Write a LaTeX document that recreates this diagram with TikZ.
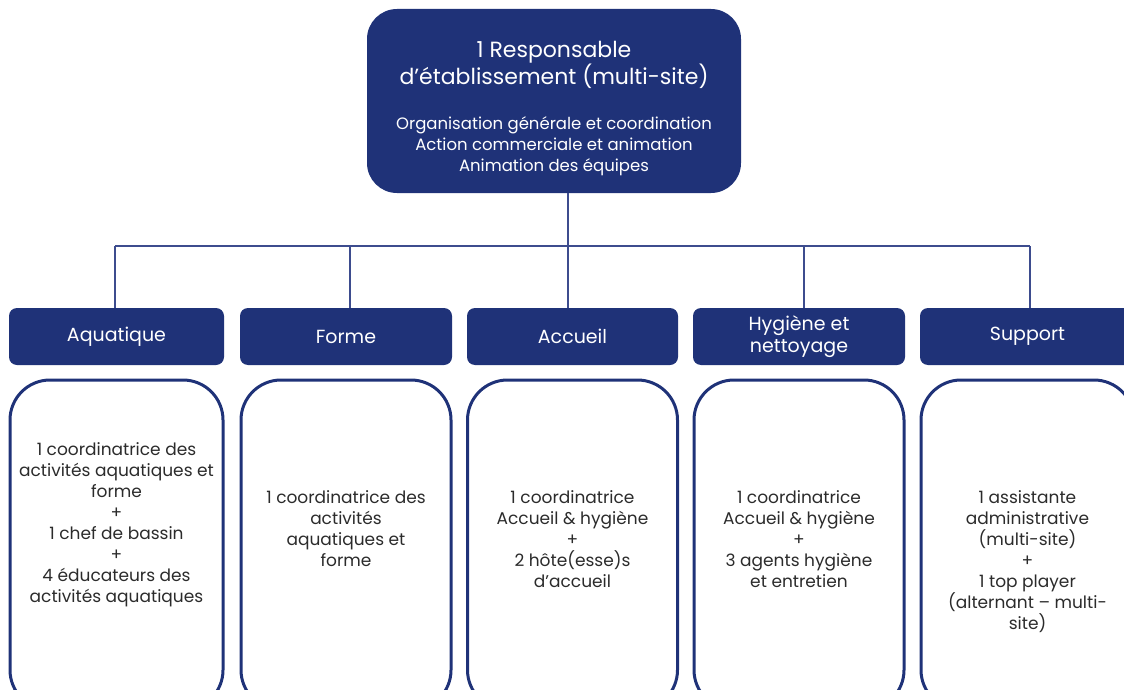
\documentclass[tikz,border=0pt]{standalone}
\usepackage{fontspec}
\setmainfont{Poppins}
\usetikzlibrary{positioning}
\definecolor{navy}{HTML}{1F3278}
\definecolor{wire}{HTML}{3D4C8E}
\definecolor{ink}{HTML}{2B2B2B}
\begin{document}
\begin{tikzpicture}[x=1pt,y=-1pt]
  \tikzset{
    headbox/.style={rectangle,rounded corners=8pt,fill=navy,text=white,
      minimum width=212pt,minimum height=57pt,align=center,
      font=\fontsize{19}{22}\selectfont},
    staffbox/.style={rectangle,rounded corners=40pt,draw=navy,line width=3pt,
      minimum width=210pt,minimum height=330pt},
    staff/.style={anchor=north,align=center,text=ink,inner sep=0pt,
      font=\fontsize{17}{21}\selectfont},
    link/.style={draw=wire,line width=1.2pt}
  }
  \useasboundingbox (0,0) rectangle (1124,690);
  \clip (0,0) rectangle (1124,690);

    %TOP
    \node[rectangle,rounded corners=30pt,fill=navy,minimum width=374pt,minimum height=184pt] (top) at (554,101) {};
    \node[text=white,align=center,font=\fontsize{22}{27}\selectfont] (title) at (554,65) {1 Responsable\\d’établissement (multi-site)};
    \node[text=white,align=center,font=\fontsize{16.5}{21}\selectfont] (duties) at (554,146) {Organisation générale et coordination\\Action commerciale et animation\\Animation des équipes};

    %HEADS
    \node[headbox,minimum width=215pt] (h1) at (116.5,336.5) {Aquatique};
    \node[headbox] (h2) at (346,336.5) {Forme};
    \node[headbox,minimum width=211pt] (h3) at (572.5,336.5) {Accueil};
    \node[headbox] (h4) at (799,336.5) {Hygiène et\\nettoyage};
    \node[headbox,minimum width=215pt] (h5) at (1027.5,336.5) {Support};

    %LINKS
    \coordinate (bus) at (568,246);
    \draw[link] (top.south -| bus) -- (bus);
    \draw[link] ([xshift=-1.5pt]h1.north |- bus) -- ([xshift=2.5pt]h5.north |- bus);
    \foreach \h/\dx in {h1/-1.5,h2/4,h3/-4.5,h4/5,h5/2.5} {
      \draw[link] ([xshift=\dx pt]\h.north |- bus) -- ([xshift=\dx pt]\h.north) ;
    }

    %STAFF
    \node[staffbox,minimum width=213pt] (s1) at (116.5,545) {};
    \node[staffbox] (s2) at (346,545) {};
    \node[staffbox] (s3) at (572.5,545) {};
    \node[staffbox] (s4) at (799,545) {};
    \node[staffbox,minimum width=213pt] (s5) at (1027.5,545) {};

    \node[staff] (t1) at (116.5,442) {1 coordinatrice des\\activités aquatiques et\\forme\\+\\1 chef de bassin\\+\\4 éducateurs des\\activités aquatiques};
    \node[staff] (t2) at (346,490) {1 coordinatrice des\\activités\\aquatiques et\\forme};
    \node[staff] (t3) at (572.5,490) {1 coordinatrice\\Accueil \& hygiène\\+\\2 hôte(esse)s\\d’accueil};
    \node[staff] (t4) at (799,490) {1 coordinatrice\\Accueil \& hygiène\\+\\3 agents hygiène\\et entretien};
    \node[staff] (t5) at (1027.5,490) {1 assistante\\administrative\\(multi-site)\\+\\1 top player\\(alternant – multi-\\site)};
  \end{tikzpicture}
\end{document}
